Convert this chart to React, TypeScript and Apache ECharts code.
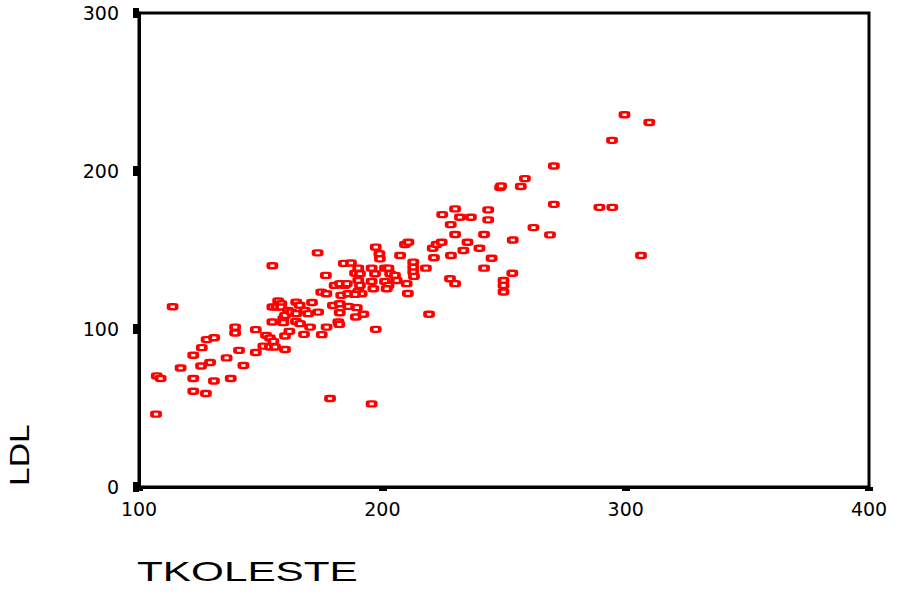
import React, { useEffect, useRef } from "react";
import * as echarts from "echarts";

const tkoleste = [
  107.0, 107.3, 108.9, 113.8, 117.1, 122.3, 122.3, 122.3, 125.8, 127.8, 130.9, 125.5, 127.5, 129.2, 130.8,
  136.0, 137.7, 139.5, 139.5, 141.1, 142.9, 148.0, 148.0, 151.1, 153.8, 155.9, 152.2, 153.8, 155.2, 154.8,
  154.8, 156.6, 157.2, 154.8, 159.3, 159.3, 160.0, 160.0, 161.8, 164.5, 166.2, 167.8, 170.3, 175.1, 177.1,
  181.9, 158.5, 158.4, 160.0, 161.2, 162.6, 164.6, 164.6, 166.0, 168.1, 169.5, 173.6, 171.1, 173.4, 174.9,
  177.0, 179.7, 182.5, 182.5, 176.8, 180.4, 184.5, 183.1, 185.9, 184.2, 187.1, 188.8, 190.1, 190.8, 195.6,
  197.0, 197.3, 198.8, 199.0, 201.1, 202.5, 203.2, 205.2, 207.3, 209.3, 210.7, 212.7, 212.7, 212.7, 213.0,
  217.9, 182.6, 185.4, 190.1, 190.8, 195.6, 196.3, 201.1, 202.5, 205.9, 210.0, 190.1, 191.5, 201.8, 210.5,
  189.1, 192.2, 186.0, 189.5, 182.3, 197.3, 178.5, 195.6, 188.8, 220.7, 222.3, 224.4, 221.2, 224.6, 229.9,
  231.9, 236.4, 228.1, 229.9, 243.5, 243.5, 241.8, 233.3, 235.0, 239.9, 228.2, 244.9, 241.8, 227.8, 229.9,
  219.2, 249.8, 249.8, 249.8, 253.4, 253.6, 248.4, 248.8, 256.9, 258.6, 262.1, 268.9, 270.5, 270.5, 289.2,
  294.5, 294.4, 299.5, 309.7, 306.3,
];

const ldl = [
  46.1, 70.3, 68.7, 114.1, 75.3, 83.4, 68.7, 60.6, 88.2, 93.3, 94.5, 76.6, 59.2, 78.8, 67.1,
  81.7, 68.7, 101.2, 97.5, 86.5, 76.9, 99.6, 85.1, 89.2, 88.6, 88.6, 96.0, 94.3, 92.2, 104.4,
  113.9, 113.9, 117.7, 140.0, 106.5, 104.0, 95.6, 87.0, 98.5, 104.8, 103.4, 96.6, 101.2, 96.4, 101.2,
  104.4, 116.0, 113.9, 108.6, 111.8, 110.7, 109.7, 117.0, 115.0, 111.8, 109.7, 110.7, 116.8, 148.2, 123.3,
  122.3, 114.9, 116.0, 110.3, 133.9, 127.6, 127.6, 121.3, 122.3, 141.5, 141.8, 135.3, 138.5, 135.0, 138.5,
  135.0, 151.8, 147.6, 144.4, 138.5, 138.5, 135.0, 133.9, 146.5, 153.5, 154.9, 142.3, 139.1, 136.0, 133.3,
  138.5, 128.7, 128.7, 130.7, 127.6, 130.1, 125.5, 130.1, 127.6, 130.7, 128.7, 123.8, 122.3, 125.5, 122.5,
  107.6, 109.3, 114.3, 113.5, 102.9, 99.8, 56.0, 52.6, 121.9, 151.1, 153.5, 154.9, 145.1, 172.4, 176.0,
  170.7, 170.7, 166.1, 159.8, 175.4, 169.1, 159.8, 149.7, 154.9, 151.1, 146.5, 144.8, 138.5, 131.8, 128.7,
  109.3, 130.7, 127.6, 123.4, 135.3, 156.3, 189.5, 190.5, 190.2, 195.2, 164.2, 159.6, 203.2, 178.9, 177.0,
  177.0, 219.4, 235.6, 230.7, 146.5,
];

const xTitle = "TKOLESTE";
const yTitle = "LDL";
const xRange = [100, 400];
const yRange = [0, 300];
const tickStep = 100;

export default function App() {
  const ref = useRef<HTMLDivElement>(null);
  useEffect(() => {
    if (!ref.current) return;
    const chart = echarts.init(ref.current, null, { renderer: "svg" });
    const data = tkoleste.map((x, i) => [x, ldl[i]]);
    const labelFont = {
      color: "#000",
      fontFamily: "DejaVu Sans",
      fontSize: 19,
    };
    chart.setOption({
      animation: false,
      backgroundColor: "#fff",
      grid: {
        left: 139,
        right: 34,
        top: 13,
        bottom: 107,
        show: true,
        borderColor: "#000",
        borderWidth: 3,
        backgroundColor: "transparent",
      },
      xAxis: {
        type: "value",
        min: xRange[0],
        max: xRange[1],
        interval: tickStep,
        splitLine: { show: false },
        axisLine: { show: true, onZero: false, lineStyle: { color: "#000", width: 3 } },
        axisTick: { show: true, length: 4, lineStyle: { color: "#000", width: 8 } },
        axisLabel: { ...labelFont, margin: 12 },
      },
      yAxis: {
        type: "value",
        min: yRange[0],
        max: yRange[1],
        interval: tickStep,
        splitLine: { show: false },
        axisLine: { show: true, onZero: false, lineStyle: { color: "#000", width: 3 } },
        axisTick: { show: true, length: 6, lineStyle: { color: "#000", width: 10 } },
        axisLabel: { ...labelFont, margin: 20 },
      },
      graphic: [
        {
          type: "text",
          x: 137,
          y: 572,
          scaleX: 1.51,
          style: {
            text: xTitle,
            fill: "#000",
            font: "28px 'Liberation Sans'",
            textAlign: "left",
            textVerticalAlign: "middle",
          },
        },
        {
          type: "text",
          x: 33,
          y: 486,
          rotation: Math.PI / 2,
          scaleX: 1.2,
          style: {
            text: yTitle,
            fill: "#000",
            font: "28px 'Liberation Sans'",
            textAlign: "left",
            textVerticalAlign: "bottom",
          },
        },
      ],
      series: [
        {
          type: "scatter",
          data,
          symbol: "roundRect",
          symbolSize: [8, 5],
          itemStyle: { color: "#fff", borderColor: "#ff0000", borderWidth: 3, opacity: 1 },
          emphasis: { disabled: true },
        },
      ],
    });
    return () => chart.dispose();
  }, []);
  return (
    <div
      ref={ref}
      style={{ position: "fixed", left: 0, top: 0, width: 903, height: 594 }}
    />
  );
}
